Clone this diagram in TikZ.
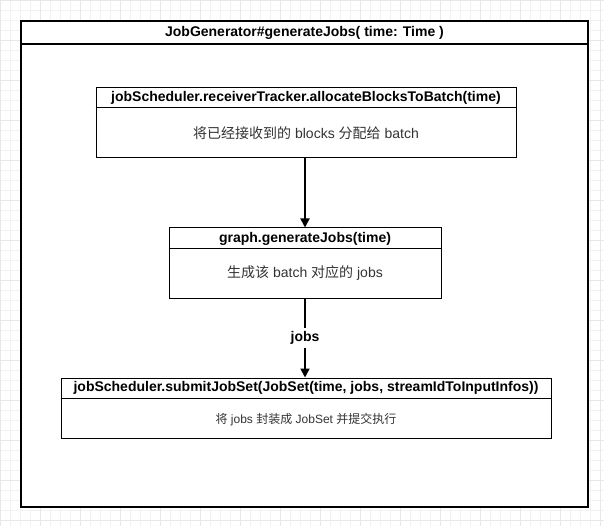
\documentclass[tikz,border=0pt]{standalone}
\usepackage{fontspec}
\setmainfont{Liberation Sans}
\newfontfamily\cjk{Noto Sans CJK SC}
\usetikzlibrary{arrows.meta}
\tikzset{
  box/.style={draw=black, line width=1pt, fill=white, inner sep=0pt},
  hdr/.style={font=\fontsize{14}{16}\selectfont\bfseries, inner sep=0pt},
  body/.style={font=\fontsize{14}{16}\selectfont, text=black!80, inner sep=0pt},
  smallbody/.style={font=\fontsize{12}{14}\selectfont, text=black!80, inner sep=0pt},
  conn/.style={line width=1.8pt, -{Triangle[length=9pt,width=9pt]}},
  minorgrid/.style={draw=black!5, line width=0.4pt},
  majorgrid/.style={draw=black!9, line width=0.5pt}
}
\begin{document}
\begin{tikzpicture}[x=1pt,y=-1pt]
\useasboundingbox (0,0) rectangle (604,526);
\fill[white] (0,0) rectangle (604,526);
\foreach \i in {0,10,...,600} {\draw[minorgrid] (\i,0) -- (\i,526);}
\foreach \j in {0,10,...,520} {\draw[minorgrid] (0,\j) -- (604,\j);}
\foreach \i in {0,40,...,600} {\draw[majorgrid] (\i,0) -- (\i,526);}
\foreach \j in {0,40,...,520} {\draw[majorgrid] (0,\j) -- (604,\j);}
% outer frame
\node[box, line width=1.3pt, minimum width=567pt, minimum height=486pt] (frame) at (304.5,264) {};
\node[hdr] (title) at (304.5,32.5) {JobGenerator\#generateJobs( time: Time )};
\draw[line width=1.3pt] (frame.west |- 0,44) -- (frame.east |- 0,44);
% box 1
\node[box, minimum width=420pt, minimum height=70pt] (b1) at (306,123) {};
\node[hdr] (h1) at (306,98) {jobScheduler.receiverTracker.allocateBlocksToBatch(time)};
\draw[line width=1pt] (b1.west |- 0,108) -- (b1.east |- 0,108);
\node[body] (t1) at (306,133.5) {{\cjk 将已经接收到的} blocks {\cjk 分配给} batch};
% box 2
\node[box, minimum width=272pt, minimum height=70pt] (b2) at (305,263) {};
\node[hdr] (h2) at (305,238.5) {graph.generateJobs(time)};
\draw[line width=1pt] (b2.west |- 0,249) -- (b2.east |- 0,249);
\node[body] (t2) at (305,273.5) {{\cjk 生成该} batch {\cjk 对应的} jobs};
% box 3
\node[box, minimum width=490pt, minimum height=60pt] (b3) at (306,408) {};
\node[hdr] (h3) at (306,388) {jobScheduler.submitJobSet(JobSet(time, jobs, streamIdToInputInfos))};
\draw[line width=1pt] (b3.west |- 0,398) -- (b3.east |- 0,398);
\node[smallbody] (t3) at (306,420) {{\cjk 将} jobs {\cjk 封装成} JobSet {\cjk 并提交执行}};
% connectors
\draw[conn] (b1.south -| 305,0) -- (b2.north -| 305,0);
\draw[conn] (b2.south -| 305,0) -- node[hdr, fill=white, inner sep=3pt] (lbl) {jobs} (b3.north -| 305,0);
\end{tikzpicture}
\end{document}
